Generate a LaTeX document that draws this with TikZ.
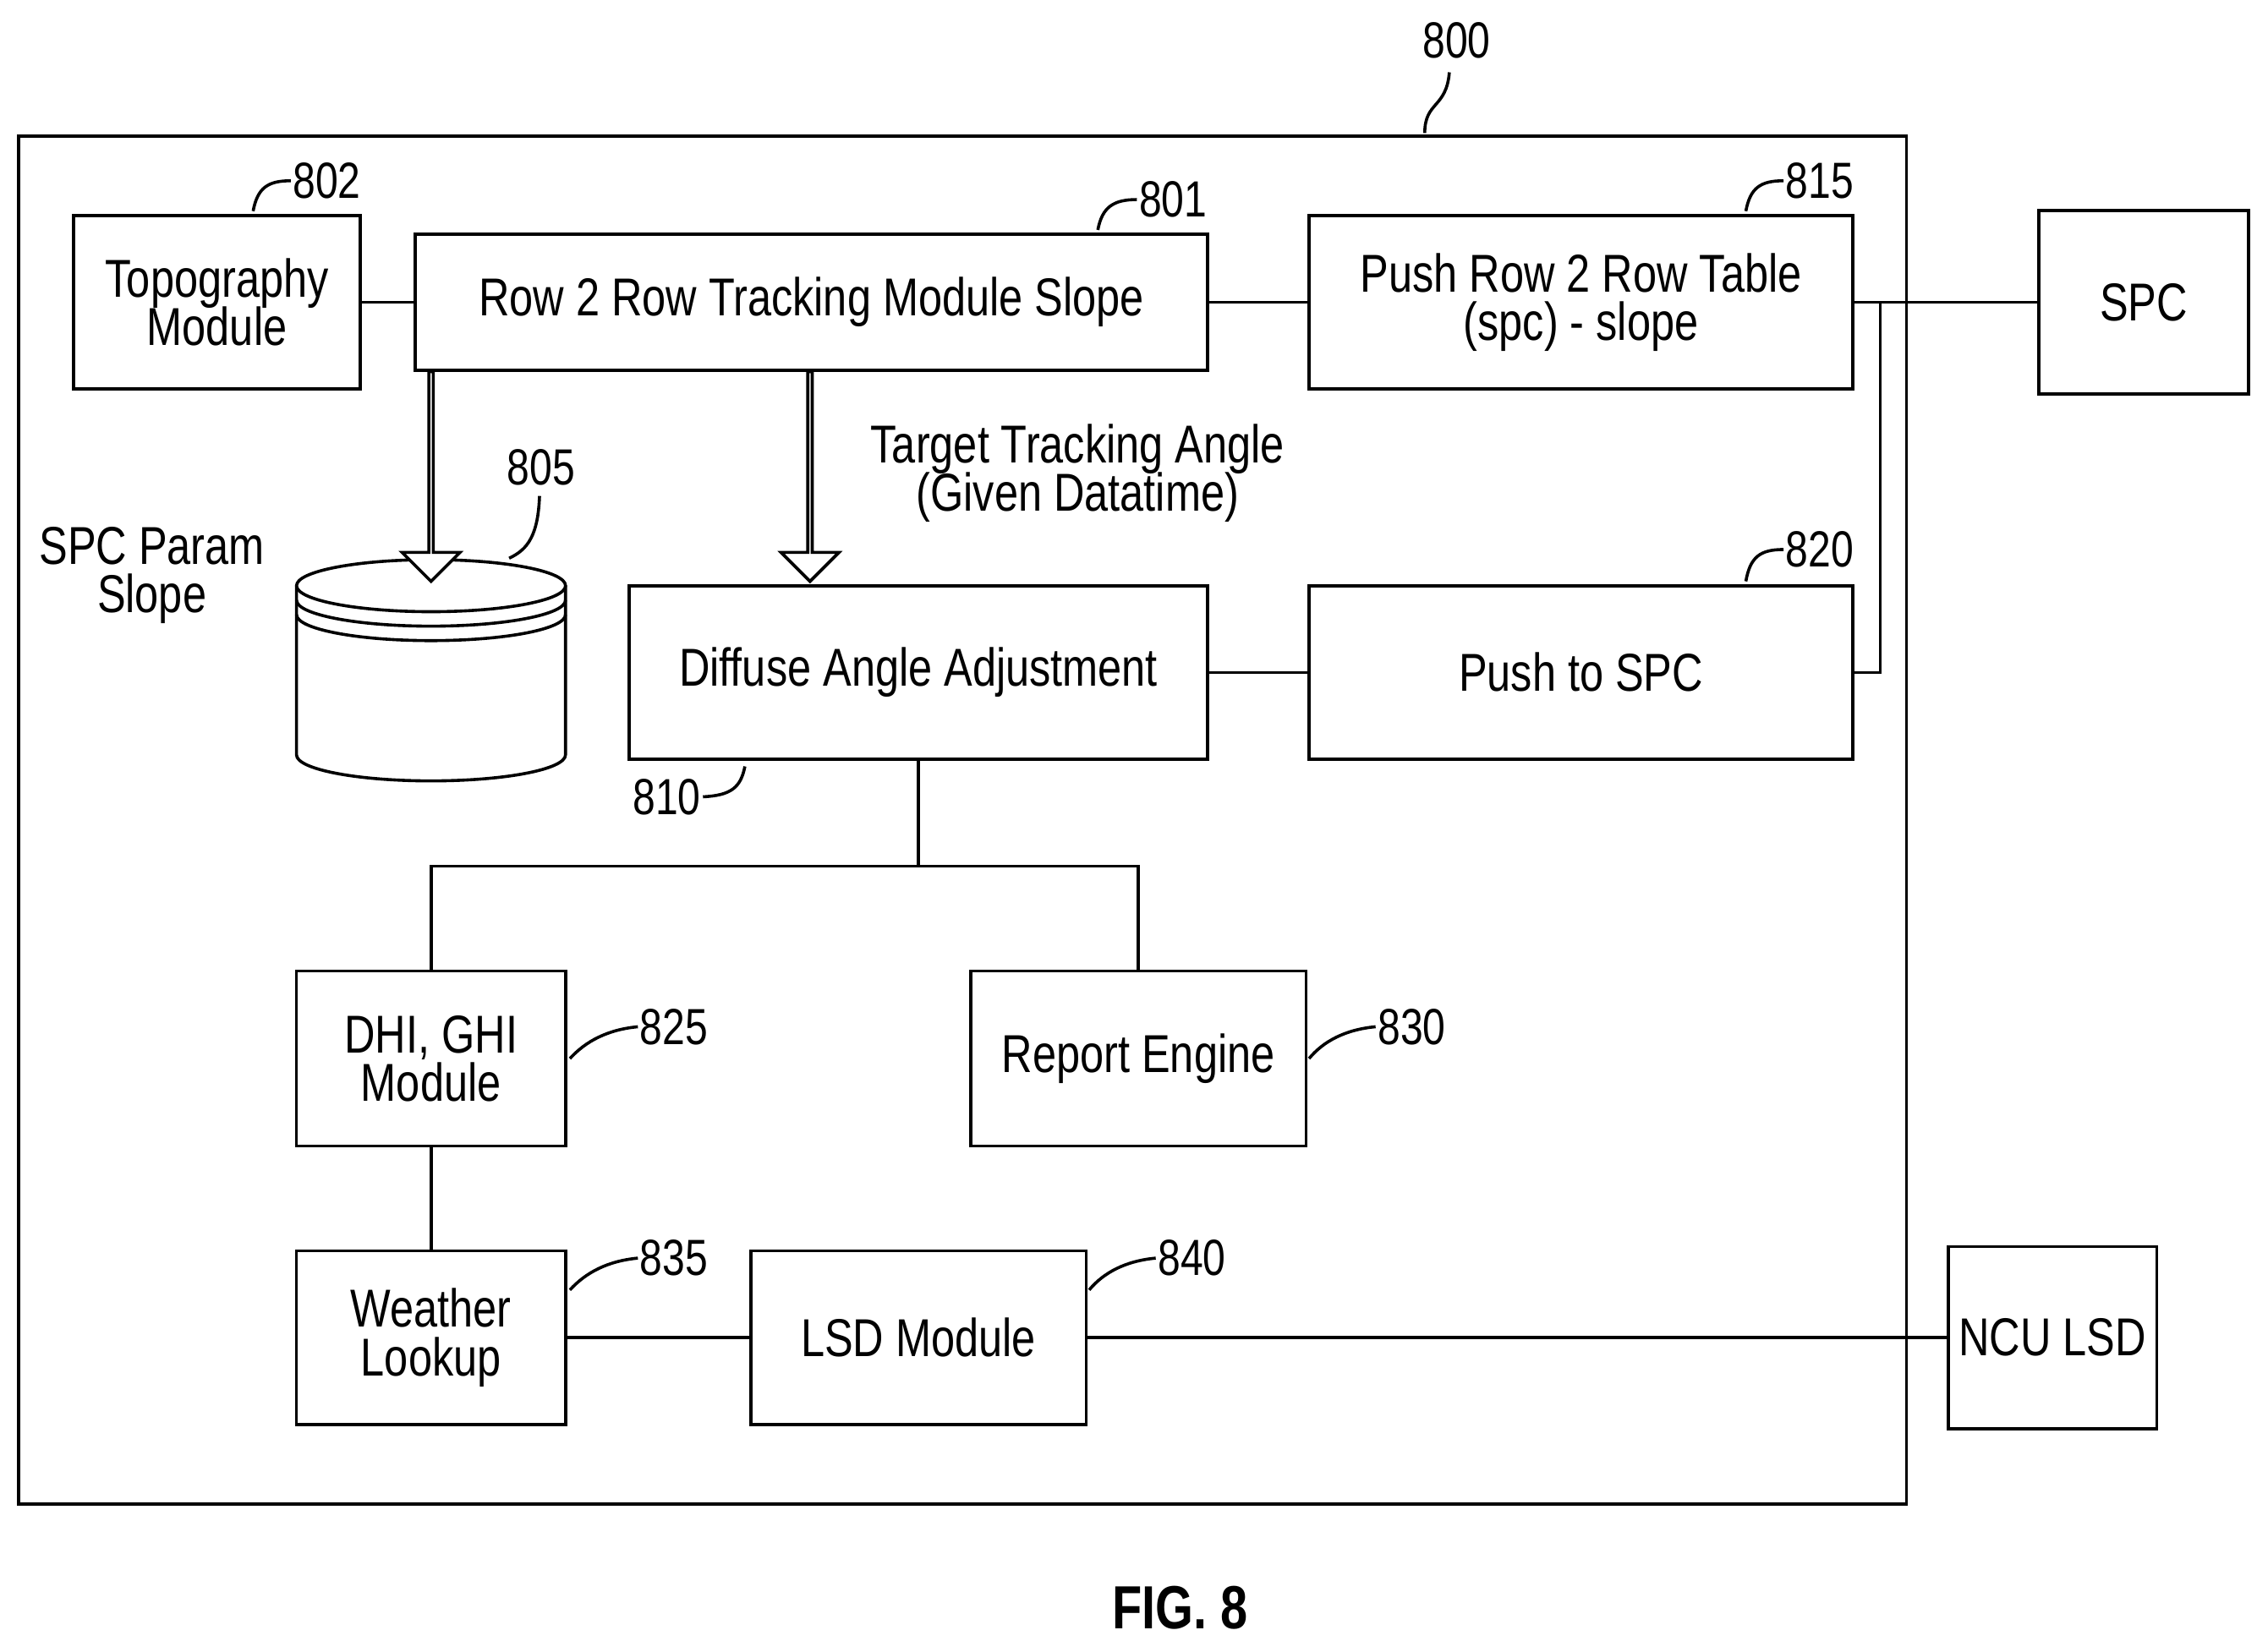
\documentclass[tikz,border=0pt]{standalone}
\usepackage{fontspec}
\setmainfont{Liberation Sans}[FakeStretch=0.8]
\usetikzlibrary{shapes.geometric,shapes.arrows,arrows.meta,calc}
\tikzset{
  blk/.style={draw, line width=1.2pt, inner sep=0pt, font=\fontsize{21}{23}\selectfont, align=center},
  ref/.style={font=\fontsize{20}{22}\selectfont},
  lnk/.style={line width=1.2pt},
  hollow/.style={draw, line width=1.2pt, fill=white, single arrow, single arrow head extend=0.25cm,
    minimum height=2.9cm, inner sep=0pt, minimum width=0.8cm, shape border rotate=270},
}
\begin{document}
\begin{tikzpicture}[x=0.02cm,y=-0.02cm]
  \useasboundingbox (0,0) rectangle (1568,1142);
  % frame
  \draw[lnk] (13,94) rectangle (1318,1040);
  \node[ref] (n800) at (1007,28) {800};
  \draw[lnk] (985,92) .. controls (985,70) and (1000,75) .. (1002,50);

  % blocks
  \node[blk, minimum width=3.96cm, minimum height=2.4cm] (topo) at (150,209) {Topography\\[-4pt]Module};
  \node[blk, minimum width=10.96cm, minimum height=1.88cm] (row) at (561,209) {Row 2 Row Tracking Module Slope};
  \node[blk, minimum width=7.52cm, minimum height=2.4cm] (table) at (1093,209) {Push Row 2 Row Table\\[-4pt](spc) - slope};
  \node[blk, minimum width=2.9cm, minimum height=2.54cm] (spc) at (1482,209) {SPC};
  \node[blk, minimum width=8cm, minimum height=2.4cm] (diffuse) at (635,465) {Diffuse Angle Adjustment};
  \node[blk, minimum width=7.52cm, minimum height=2.4cm] (push) at (1093,465) {Push to SPC};
  \node[blk, minimum width=3.72cm, minimum height=2.42cm] (dhi) at (298,732) {DHI, GHI\\[-4pt]Module};
  \node[blk, minimum width=4.64cm, minimum height=2.42cm] (report) at (787,732) {Report Engine};
  \node[blk, minimum width=3.72cm, minimum height=2.4cm] (weather) at (298,925) {Weather\\[-4pt]Lookup};
  \node[blk, minimum width=4.64cm, minimum height=2.4cm] (lsd) at (635,925) {LSD Module};
  \node[blk, minimum width=2.88cm, minimum height=2.52cm] (ncu) at (1419,925) {NCU LSD};

  % database
  \coordinate (db) at (298,405);
  \draw[lnk, fill=white] (205,405) -- (205,522) arc[start angle=180, end angle=360, x radius=1.86cm, y radius=0.36cm]
    -- (391,405);
  \draw[lnk, fill=white] (298,405) ellipse[x radius=1.86cm, y radius=0.36cm];
  \draw[lnk] (205,415) arc[start angle=180, end angle=360, x radius=1.86cm, y radius=0.36cm];
  \draw[lnk] (205,425) arc[start angle=180, end angle=360, x radius=1.86cm, y radius=0.36cm];
  \node[align=center, font=\fontsize{21}{23}\selectfont] (param) at (105,398) {SPC Param\\[-4pt]Slope};

  % connectors
  \draw[lnk] (topo) -- (row);
  \draw[lnk] (row) -- (table);
  \draw[lnk] (table) -- (spc);
  \draw[lnk] (diffuse) -- (push);
  \coordinate (bus) at (1300,209);
  \draw[lnk] (push.east) -| (bus);
  \draw[lnk] (diffuse.south) -- ++(0,73) coordinate (fork);
  \draw[lnk] (dhi.north) |- (fork) -| (report.north);
  \draw[lnk] (dhi) -- (weather);
  \draw[lnk] (weather) -- (lsd);
  \draw[lnk] (lsd) -- (ncu);

  % hollow arrows
  \node[hollow, anchor=tail] (a1) at (298,256) {};
  \node[hollow, anchor=tail] (a2) at (560,256) {};
  \node[align=center, font=\fontsize{21}{23}\selectfont] (tta) at (745,327) {Target Tracking Angle\\[-4pt](Given Datatime)};

  % reference numbers
  \node[ref] (n802) at (226,125) {802};
  \draw[lnk] (201,125) .. controls (185,125) and (178,130) .. (175,146);
  \node[ref] (n801) at (811,138) {801};
  \draw[lnk] (786,138) .. controls (770,138) and (762,143) .. (759,159);
  \node[ref] (n815) at (1258,125) {815};
  \draw[lnk] (1233,125) .. controls (1217,125) and (1210,130) .. (1207,146);
  \node[ref] (n820) at (1258,380) {820};
  \draw[lnk] (1233,380) .. controls (1217,380) and (1210,385) .. (1207,402);
  \node[ref] (n805) at (374,323) {805};
  \draw[lnk] (373,343) .. controls (372,370) and (365,380) .. (352,386);
  \node[ref] (n810) at (461,551) {810};
  \draw[lnk] (486,551) .. controls (505,550) and (512,545) .. (515,530);
  \node[ref] (n825) at (466,710) {825};
  \draw[lnk] (441,710) .. controls (420,712) and (405,720) .. (394,732);
  \node[ref] (n830) at (976,710) {830};
  \draw[lnk] (951,710) .. controls (930,712) and (915,720) .. (905,732);
  \node[ref] (n835) at (466,870) {835};
  \draw[lnk] (441,870) .. controls (420,872) and (405,880) .. (394,892);
  \node[ref] (n840) at (824,870) {840};
  \draw[lnk] (799,870) .. controls (778,872) and (763,880) .. (753,892);

  \node[font=\bfseries\fontsize{24}{26}\selectfont] (fig) at (816,1112) {FIG. 8};
\end{tikzpicture}
\end{document}
